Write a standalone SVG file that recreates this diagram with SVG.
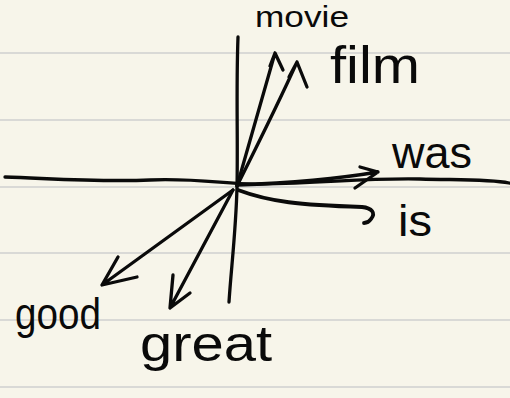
<svg xmlns="http://www.w3.org/2000/svg" width="510" height="398" viewBox="0 0 510 398">
<style>
.rule{stroke:#d9d9d6;stroke-width:2}
.ink{fill:none;stroke:#0a0a0a;stroke-width:3.3;stroke-linecap:round;stroke-linejoin:round}
.lbl{font-family:"Liberation Sans","DejaVu Sans",sans-serif;fill:#0a0a0a}
</style>
<rect width="510" height="398" fill="#f7f5ea"/>
<g id="paper-lines">
<line class="rule" x1="0" y1="53" x2="510" y2="53"/>
<line class="rule" x1="0" y1="120" x2="510" y2="120"/>
<line class="rule" x1="0" y1="187" x2="510" y2="187"/>
<line class="rule" x1="0" y1="253" x2="510" y2="253"/>
<line class="rule" x1="0" y1="320" x2="510" y2="320"/>
<line class="rule" x1="0" y1="387" x2="510" y2="387"/>
</g>
<g id="axes">
<path class="ink" d="M238,37 C236,90 238,140 237,187 C236,230 231,270 229,302"/>
<path class="ink" d="M5,177 C60,179 100,182 150,180 C200,178 230,185 260,184 C330,183 360,178 420,179 C460,180 490,179 509,183"/>
</g>
<g id="connectors">
<path class="ink" d="M237,186 L275,53 M270,66 L275,53 L283,70"/>
<path class="ink" d="M237,186 C255,150 280,100 297,62 M289,77 L297,62 L307,87"/>
<path class="ink" d="M237,185 C290,183 330,180 378,172 M360,167 L378,172 L355,188"/>
<path class="ink" d="M238,190 C270,202 300,205 362,207 C372,208 376,213 371,219 C369,222 366,223 364,223" style="stroke-width:3.8"/>
<path class="ink" d="M233,190 L102,285 M118,257 L102,285 L137,277"/>
<path class="ink" d="M233,190 L170,308 M173,275 L170,308 L190,293"/>
</g>
<g id="movie"><text class="lbl" x="255" y="27" font-size="30" textLength="94" lengthAdjust="spacingAndGlyphs">movie</text></g>
<g id="film"><text class="lbl" x="330" y="83" font-size="52" textLength="90" lengthAdjust="spacingAndGlyphs">film</text></g>
<g id="was"><text class="lbl" x="392" y="168" font-size="44" textLength="80" lengthAdjust="spacingAndGlyphs">was</text></g>
<g id="is"><text class="lbl" x="398" y="236" font-size="44" textLength="34" lengthAdjust="spacingAndGlyphs">is</text></g>
<g id="good"><text class="lbl" x="15" y="329" font-size="44" textLength="86" lengthAdjust="spacingAndGlyphs">good</text></g>
<g id="great"><text class="lbl" x="140" y="361" font-size="50" textLength="132" lengthAdjust="spacingAndGlyphs">great</text></g>
</svg>
